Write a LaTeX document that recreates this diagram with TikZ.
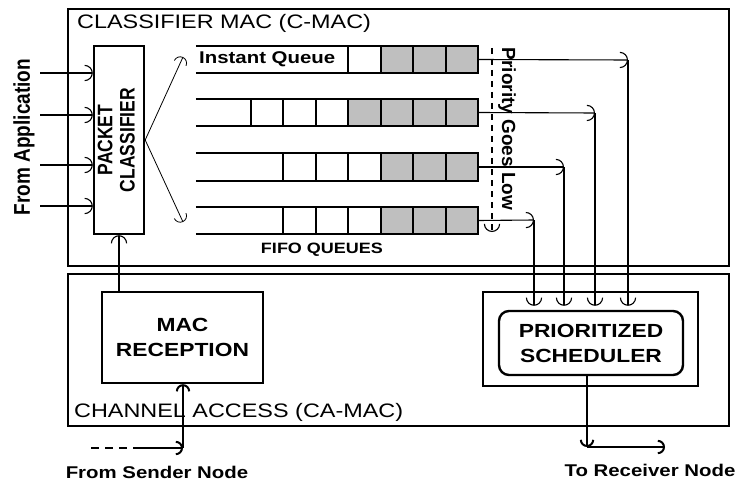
\documentclass[tikz,border=0pt]{standalone}
\usepackage{fontspec}
\setmainfont{Liberation Sans}[FakeStretch=1.2]
\newfontfamily\rotfont{Liberation Sans}
\usepackage{tikz}
\usetikzlibrary{arrows.meta,positioning,calc}

\begin{document}
\begin{tikzpicture}[
  x=1pt, y=-1pt,
  region/.style={draw, line width=1.4pt, minimum width=661pt, inner sep=0pt},
  heavy/.style={draw, line width=2.4pt, inner sep=0pt, align=center, font=\fontsize{19}{25}\selectfont\bfseries},
  cell/.style={draw, line width=2pt, minimum width=32.5pt, minimum height=27pt, inner sep=0pt},
  queue/.style={minimum width=282pt, minimum height=27pt, inner sep=0pt},
  qline/.style={line width=2.4pt},
  title/.style={font=\fontsize{19.5}{22}\selectfont, inner sep=0pt},
  lbl/.style={font=\fontsize{17}{20}\selectfont\bfseries, inner sep=0pt},
  rotlbl/.style={font=\rotfont\fontsize{19}{21}\selectfont\bfseries, inner sep=0pt},
  arr/.style={-{Arc Barb[scale=2.2]}, line width=1.1pt},
  bigarr/.style={-{Arc Barb[scale=1.3]}, line width=2pt},
]
  \useasboundingbox (0,0) rectangle (735,481);

  % the two layers
  \node[region, minimum height=257pt] (cmac) at (398.5,137.5) {};
  \node[region, minimum height=152pt] (camac) at (398.5,350) {};
  \node[title, anchor=west] (cmactitle) at (77,23) {CLASSIFIER MAC (C-MAC)};

  % packet classifier and its inputs
  \node[heavy, minimum width=50pt, minimum height=188pt, font=\rotfont\fontsize{17.5}{18.5}\selectfont\bfseries] (pc) at (119,140)
    {\rotatebox{90}{\scalebox{1}[1.2]{\begin{tabular}{@{}c@{}}PACKET\\CLASSIFIER\end{tabular}}}};
  \foreach \y [count=\i] in {73,115,165,206} {
    \coordinate (in\i) at (40,\y);
    \draw[arr] (in\i) -- (in\i -| pc.west);
  }
  \node[rotlbl, rotate=90] (fromapp) at (24,137) {\scalebox{1}[1.2]{From Application}};

  \coordinate (fanup) at (183,57);
  \coordinate (fandn) at (183,222);
  \draw[arr, line width=0.8pt] (pc.east) -- (fanup);
  \draw[arr, line width=0.8pt] (pc.east) -- (fandn);

  % fifo queues
  \foreach \y [count=\i] in {59.5,112.5,167,220.5} {
    \node[queue] (q\i) at (337,\y) {};
    \draw[qline] (q\i.north west) -- (q\i.north east);
    \draw[qline] (q\i.south west) -- (q\i.south east);
  }
  \foreach \k in {1,2,3} \node[cell, fill=gray!50] at ({478-32.5*(\k-0.5)},59.5) {};
  \node[cell] at ({478-32.5*3.5},59.5) {};
  \node[lbl, anchor=west] (iq) at (199,59.5) {Instant Queue};
  \foreach \k in {1,...,4} \node[cell, fill=gray!50] at ({478-32.5*(\k-0.5)},112.5) {};
  \foreach \k in {5,6,7} \node[cell] at ({478-32.5*(\k-0.5)},112.5) {};
  \foreach \y in {167,220.5} {
    \foreach \k in {1,2,3} \node[cell, fill=gray!50] at ({478-32.5*(\k-0.5)},\y) {};
    \foreach \k in {4,5,6} \node[cell] at ({478-32.5*(\k-0.5)},\y) {};
  }
  \node[lbl, font=\fontsize{15}{18}\selectfont\bfseries] (fifo) at (322,250) {FIFO QUEUES};

  % priority direction
  \coordinate (pgtop) at (492,48);
  \coordinate (pgbot) at (492,232);
  \draw[arr, dash pattern=on 6pt off 5pt] (pgtop) -- (pgbot);
  \node[rotlbl, rotate=-90] (prio) at (507,129) {Priority Goes Low};

  % scheduler
  \node[heavy, minimum width=215pt, minimum height=94pt] (schbox) at (590.5,339) {};
  \node[heavy, rounded corners=10pt, minimum width=184pt, minimum height=64pt] (sched) at (591,343) {PRIORITIZED\\SCHEDULER};
  \foreach \x/\y [count=\i] in {628/60,595/113,564/167,534/220} {
    \coordinate (c\i) at (\x,\y);
    \draw[arr] (q\i.east) -- (c\i);
    \draw[arr] (c\i) -- ($(c\i |- sched.north)+(0,-4)$);
  }

  \coordinate (outc) at (587,447);
  \coordinate (outend) at (665,447);
  \draw[bigarr] (outc |- sched.south) -- (outc);
  \draw[bigarr] (outc) -- (outend);
  \node[lbl] (torx) at (650,470) {To Receiver Node};

  % mac reception
  \node[heavy, minimum width=161pt, minimum height=91pt] (macrx) at (182.5,337.5) {MAC\\RECEPTION};
  \draw[arr] (pc.south |- macrx.north) -- (pc.south);

  \coordinate (snd0) at (91,448);
  \coordinate (snd1) at (140,448);
  \coordinate (snd2) at (183,448);
  \draw[line width=2pt, dash pattern=on 8pt off 6pt] (snd0) -- (snd1);
  \draw[bigarr] (snd1) -- (snd2);
  \draw[bigarr] (snd2) -- (macrx.south -| snd2);
  \node[lbl] (fromsnd) at (157,472) {From Sender Node};

  \node[title, anchor=west] (camactitle) at (74,412) {CHANNEL ACCESS (CA-MAC)};
\end{tikzpicture}
\end{document}
